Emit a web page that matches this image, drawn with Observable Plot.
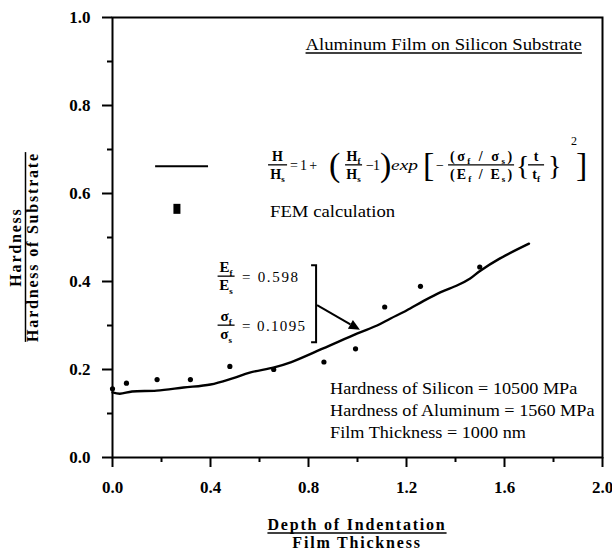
<!DOCTYPE html>
<html><head><meta charset="utf-8">
<script src="https://cdn.jsdelivr.net/npm/d3@7"></script>
<script src="https://cdn.jsdelivr.net/npm/@observablehq/plot@0.6"></script>
<style>
html,body{margin:0;padding:0;background:#fff;}
#chart svg{display:block;background:#fff;}
</style>
</head><body><div id="chart"></div>
<script>
// ---- data ----
const curveX = [0, 0.03, 0.08, 0.18, 0.29, 0.40, 0.49, 0.56, 0.66, 0.73, 0.86, 1.0, 1.08, 1.135, 1.2, 1.27, 1.34, 1.41, 1.46, 1.5, 1.58, 1.70];
const curveY = [0.148, 0.145, 0.150, 0.152, 0.159, 0.166, 0.180, 0.193, 0.205, 0.217, 0.248, 0.282, 0.300, 0.316, 0.334, 0.356, 0.376, 0.392, 0.407, 0.424, 0.452, 0.486];
const femX = [0.0, 0.057, 0.182, 0.318, 0.479, 0.658, 0.863, 0.992, 1.111, 1.257, 1.499];
const femY = [0.156, 0.169, 0.177, 0.177, 0.207, 0.200, 0.217, 0.247, 0.342, 0.389, 0.433];
const xTicks = [0, 0.4, 0.8, 1.2, 1.6, 2.0];
const xMinor = [0.2, 0.6, 1.0, 1.4, 1.8];
const yTicks = [0, 0.2, 0.4, 0.6, 0.8, 1.0];
const yMinor = [0.1, 0.3, 0.5, 0.7, 0.9];
const titleText = "Aluminum Film on Silicon Substrate";
const infoLines = ["Hardness of Silicon = 10500 MPa", "Hardness of Aluminum = 1560 MPa", "Film Thickness = 1000 nm"];
const legendFem = "FEM calculation";
const xLabel = ["Depth of Indentation", "Film Thickness"];
const yLabel = ["Hardness", "Hardness of Substrate"];
const ratioE = "0.598";
const ratioSigma = "0.1095";

const curve = curveX.map((x, i) => ({x, y: curveY[i]}));
const fem = femX.map((x, i) => ({x, y: femY[i]}));

// ---- layout ----
const W = 612, H = 552;
const M = {top: 17, right: 10, bottom: 95, left: 112};
const FONT = "'Liberation Serif', 'Times New Roman', serif";

// annotation anchors (data units)
const formulaAnchor = {x: 0.637, y: 0.664};
const legendLine = {x1: 0.176, x2: 0.392, y: 0.661};
const legendSquare = {x: 0.265, y: 0.564};
const femLabelPos = {x: 0.645, y: 0.545};
const infoPos = {x: 0.89, y: 0.143};
const titlePos = {x: 1.918, y: 0.925};
const bracketPos = {x: 0.833, y1: 0.436, y2: 0.261};
const arrowPos = {x1: 0.837, y1: 0.345, x2: 1.012, y2: 0.289};

function annotations(index, scales, values, dim) {
  const sx = typeof scales.x === "function" ? scales.x : d3.scaleLinear([0, 2], [M.left, W - M.right]);
  const sy = typeof scales.y === "function" ? scales.y : d3.scaleLinear([0, 1], [H - M.bottom, M.top]);
  const g = d3.create("svg:g").attr("font-family", FONT).attr("font-weight", "normal")
    .attr("text-anchor", "start").attr("fill", "black");

  function rich(x, y, parts, o = {}) {
    const size = o.size || 14, subSize = o.subSize || 9;
    const t = g.append("text").attr("x", x).attr("y", y).attr("font-size", size);
    t.attr("text-anchor", o.anchor || "start");
    if (o.weight) t.attr("font-weight", o.weight);
    if (o.style) t.attr("font-style", o.style);
    if (o.len) t.attr("textLength", o.len).attr("lengthAdjust", o.adjust || "spacing");
    let shifted = false;
    for (const p of parts) {
      const [s, sub] = Array.isArray(p) ? p : [p, 0];
      const ts = t.append("tspan").text(s);
      if (sub && !shifted) { ts.attr("dy", 3.5).attr("font-size", subSize); shifted = true; }
      else if (sub) { ts.attr("font-size", subSize); }
      else if (!sub && shifted) { ts.attr("dy", -3.5); shifted = false; }
    }
    return t;
  }
  // plain text, stretched later (after mounting) to imitate the wider original typeface
  function wide(x, y, s, size, stretch, anchor = "start", id = null) {
    const t = g.append("text").attr("x", x).attr("y", y).attr("font-size", size)
      .attr("text-anchor", anchor).attr("data-stretch", stretch).text(s);
    if (id) t.attr("id", id);
    return t;
  }
  function bar(x1, x2, y, w = 1.3) {
    g.append("line").attr("x1", x1).attr("x2", x2).attr("y1", y).attr("y2", y).attr("stroke", "black").attr("stroke-width", w);
  }
  function frac(cx, y, w, num, den, o = {}) {
    bar(cx - w / 2, cx + w / 2, y);
    rich(cx, y - 4, num, {anchor: "middle", weight: "bold", ...o, len: o.numLen});
    rich(cx, y + 14, den, {anchor: "middle", weight: "bold", ...o, len: o.denLen});
  }
  function underline(forId, offset, w = 1.4) {
    g.append("line").attr("data-under", forId).attr("data-offset", offset)
      .attr("stroke", "black").attr("stroke-width", w);
  }

  // title
  const tx = sx(titlePos.x), ty = sy(titlePos.y);
  wide(tx, ty, titleText, 17, 1.1, "end", "titleText");
  underline("titleText", 3, 1.4);

  // legend line + formula
  g.append("line").attr("x1", sx(legendLine.x1)).attr("x2", sx(legendLine.x2))
    .attr("y1", sy(legendLine.y)).attr("y2", sy(legendLine.y)).attr("stroke", "black").attr("stroke-width", 2);
  const fx = sx(formulaAnchor.x), fy = sy(formulaAnchor.y);
  frac(fx + 9.5, fy, 19, ["H"], ["H", ["s", 1]]);
  rich(fx + 22, fy + 5, ["= 1 +"], {size: 14, len: 27});
  rich(fx + 61, fy + 11, ["("], {size: 34});
  frac(fx + 85.5, fy, 17, ["H", ["f", 1]], ["H", ["s", 1]]);
  rich(fx + 98, fy + 5, ["\u2212 1"], {size: 14, len: 14});
  rich(fx + 112, fy + 11, [")"], {size: 34});
  rich(fx + 123, fy + 5, ["exp"], {size: 15, style: "italic", len: 27, adjust: "spacingAndGlyphs"});
  rich(fx + 155, fy + 11, ["["], {size: 34});
  rich(fx + 168, fy + 5, ["\u2212"], {size: 14});
  frac(fx + 213, fy, 66, ["(\u03c3", ["f", 1], " / \u03c3", ["s", 1], ")"], ["(E", ["f", 1], " / E", ["s", 1], ")"], {numLen: 62, denLen: 62});
  rich(fx + 248, fy + 10, ["{"], {size: 28});
  frac(fx + 268, fy, 16, ["t"], ["t", ["f", 1]]);
  rich(fx + 280, fy + 10, ["}"], {size: 28});
  rich(fx + 303, fy - 20, ["2"], {size: 12});
  rich(fx + 308, fy + 11, ["]"], {size: 34});

  // FEM legend
  const qx = sx(legendSquare.x), qy = sy(legendSquare.y);
  g.append("rect").attr("x", qx - 3.5).attr("y", qy - 5).attr("width", 7).attr("height", 10);
  wide(sx(femLabelPos.x), sy(femLabelPos.y), legendFem, 17, 1.1);

  // info lines
  infoLines.forEach((s, i) => {
    wide(sx(infoPos.x), sy(infoPos.y) + i * 22, s, 17, 1.07);
  });

  // bracket annotation
  const bx = sx(bracketPos.x), by1 = sy(bracketPos.y1), by2 = sy(bracketPos.y2);
  g.append("path").attr("d", `M${bx - 5},${by1}H${bx}V${by2}H${bx - 5}`).attr("fill", "none").attr("stroke", "black").attr("stroke-width", 2);
  frac(bx - 90, by1 + 11, 17, ["E", ["f", 1]], ["E", ["s", 1]], {size: 15});
  rich(bx - 74, by1 + 17, ["= " + ratioE], {size: 15, len: 56});
  frac(bx - 90, by1 + 60, 17, ["\u03c3", ["f", 1]], ["\u03c3", ["s", 1]], {size: 15});
  rich(bx - 74, by1 + 66, ["= " + ratioSigma], {size: 15, len: 63});

  // arrow
  const ax1 = sx(arrowPos.x1), ay1 = sy(arrowPos.y1), ax2 = sx(arrowPos.x2), ay2 = sy(arrowPos.y2);
  const ang = Math.atan2(ay2 - ay1, ax2 - ax1), hl = 11, hw = 5;
  const bxh = ax2 - hl * Math.cos(ang), byh = ay2 - hl * Math.sin(ang);
  g.append("line").attr("x1", ax1).attr("y1", ay1).attr("x2", bxh).attr("y2", byh).attr("stroke", "black").attr("stroke-width", 2);
  const px = -Math.sin(ang), py = Math.cos(ang);
  g.append("path").attr("d", `M${ax2},${ay2}L${bxh + hw * px},${byh + hw * py}L${bxh - hw * px},${byh - hw * py}Z`);

  // x label
  const cx = (M.left + W - M.right) / 2;
  g.append("text").attr("id", "xLab0").attr("x", cx).attr("y", H - 22).attr("text-anchor", "middle").attr("font-size", 16)
    .attr("font-weight", "bold").attr("letter-spacing", 1.8).text(xLabel[0]);
  underline("xLab0", 3, 1.5);
  g.append("text").attr("x", cx).attr("y", H - 4).attr("text-anchor", "middle").attr("font-size", 16)
    .attr("font-weight", "bold").attr("letter-spacing", 1.8).text(xLabel[1]);

  // y label
  const cy = 247;
  const yg = g.append("g").attr("transform", `translate(0,${cy}) rotate(-90)`);
  yg.append("text").attr("x", 0).attr("y", 21).attr("text-anchor", "middle").attr("font-size", 16)
    .attr("font-weight", "bold").attr("letter-spacing", 1.8).text(yLabel[0]);
  yg.append("text").attr("id", "yLab1").attr("x", 0).attr("y", 38).attr("text-anchor", "middle").attr("font-size", 16)
    .attr("font-weight", "bold").attr("letter-spacing", 1.8).text(yLabel[1]);
  yg.append("line").attr("data-under", "yLab1").attr("data-offset", -12.5)
    .attr("stroke", "black").attr("stroke-width", 1.5);

  return g.node();
}

const plot = Plot.plot({
  width: W, height: H,
  marginTop: M.top, marginRight: M.right, marginBottom: M.bottom, marginLeft: M.left,
  style: {fontFamily: FONT, background: "#fff", color: "black"},
  x: {domain: [0, 2]},
  y: {domain: [0, 1]},
  marks: [
    Plot.axisX({ticks: xMinor, tickSize: 5, tickFormat: () => "", strokeWidth: 2, label: null}),
    Plot.axisX({ticks: xTicks, tickSize: 10, tickPadding: 13, tickFormat: d3.format(".1f"), fontSize: 17, fontWeight: "bold", strokeWidth: 2, label: null}),
    Plot.axisY({ticks: yMinor, tickSize: 5, tickFormat: () => "", strokeWidth: 2, label: null}),
    Plot.axisY({ticks: yTicks, tickSize: 10, tickPadding: 12, tickFormat: d3.format(".1f"), fontSize: 17, fontWeight: "bold", strokeWidth: 2, label: null}),
    Plot.frame({stroke: "black", strokeWidth: 2}),
    Plot.line(curve, {x: "x", y: "y", stroke: "black", strokeWidth: 2.4, curve: "catmull-rom"}),
    Plot.dot(fem, {x: "x", y: "y", r: 2.6, fill: "black"}),
    annotations
  ]
});
document.getElementById("chart").appendChild(plot);

// post-mount fix-ups: stretch text widths, place underlines
const svg = d3.select(plot);
svg.selectAll("text[data-stretch]").each(function () {
  const L = this.getComputedTextLength();
  const s = +this.getAttribute("data-stretch");
  if (L > 0) { this.setAttribute("textLength", L * s); this.setAttribute("lengthAdjust", "spacingAndGlyphs"); }
});
svg.selectAll("line[data-under]").each(function () {
  const t = plot.querySelector("#" + this.getAttribute("data-under"));
  if (!t) return;
  const b = t.getBBox();
  const y0 = +t.getAttribute("y") + (+this.getAttribute("data-offset"));
  this.setAttribute("x1", b.x);
  this.setAttribute("x2", b.x + b.width);
  this.setAttribute("y1", y0);
  this.setAttribute("y2", y0);
});
</script>
</body></html>
